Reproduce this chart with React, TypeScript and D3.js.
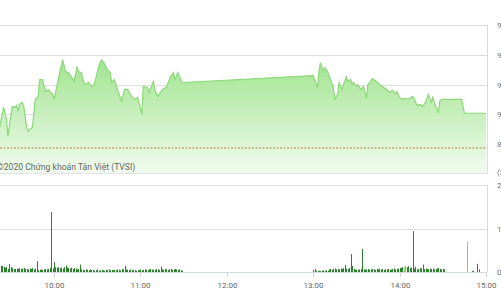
import React from "react";
import * as d3 from "d3";

const priceTimes = ["09:15","09:22","09:25","09:27","09:28","09:31","09:33","09:34","09:35","09:36","09:38","09:39","09:41","09:42","09:45","09:47","09:49","09:50","09:52","09:54","09:56","09:59","10:00","10:02","10:04","10:06","10:08","10:10","10:12","10:14","10:16","10:17","10:19","10:21","10:24","10:26","10:28","10:31","10:33","10:35","10:37","10:39","10:40","10:42","10:44","10:47","10:49","10:51","10:54","10:56","10:58","10:59","11:01","11:02","11:05","11:06","11:09","11:10","11:12","11:14","11:16","11:18","11:21","11:23","11:24","11:26","11:29","11:30","13:00","13:03","13:04","13:05","13:07","13:08","13:10","13:12","13:14","13:15","13:17","13:18","13:20","13:21","13:23","13:24","13:26","13:27","13:28","13:30","13:31","13:33","13:35","13:36","13:37","13:38","13:40","13:41","13:44","13:46","13:48","13:51","13:53","13:55","13:57","13:58","14:00","14:02","14:04","14:06","14:09","14:10","14:12","14:14","14:16","14:18","14:20","14:22","14:23","14:25","14:27","14:28","14:30","14:43","14:45","15:00"];
const priceValues = [890,885,907,895,878,908,907,909,903,910,912,908,887,883,887,915,918,935,935,923,925,920,915,928,942,955,943,942,938,933,948,943,942,930,932,928,930,948,955,951,945,942,932,935,925,913,925,925,918,915,917,912,900,928,927,922,933,925,918,922,926,927,938,942,935,942,932,932,939,927,943,952,943,947,943,935,927,915,920,932,925,930,938,933,935,930,932,928,930,925,928,922,916,930,933,936,933,930,928,925,922,924,920,923,917,915,916,915,918,916,909,910,908,912,920,912,917,908,902,914,915,915,901,901];
const referencePrice = 866;
const priceTicks = [990, 960, 930, 900, 870];

const morningStart = "09:15";
const morningVolumes = [150,120,130,110,140,120,100,130,140,140,115,90,115,70,185,115,90,70,70,80,70,90,70,80,90,70,70,60,80,70,90,60,70,250,40,50,60,50,60,70,60,70,90,1380,80,230,110,100,110,90,100,80,110,150,100,90,80,100,70,90,80,60,70,170,60,50,40,60,50,40,60,40,50,30,40,60,30,40,50,40,30,50,40,60,40,50,40,50,40,60,50,40,70,60,140,60,50,40,60,40,50,40,30,50,40,60,40,50,60,50,40,60,70,50,60,50,70,60,50,120,60,50,70,60,50,60,70,50,60,70,60,50,60,40,30];
const afternoonStart = "13:00";
const afternoonVolumes = [50,70,30,20,30,20,30,40,30,40,30,60,70,50,70,80,60,70,60,80,70,90,160,80,70,90,410,140,70,50,60,50,60,70,530,60,50,60,70,50,60,70,60,50,70,60,80,60,70,50,60,60,70,50,60,70,80,60,70,80,90,100,110,120,140,110,130,90,100,940,80,120,70,60,90,80,170,70,80,70,60,80,70,80,60,70,80,90,70,60,70,60];
const afternoonLight = [63, 64];
const lateTimes = ["14:47","14:50","14:51","14:54","14:55"];
const lateVolumes = [690,20,30,190,60];
const lateLight = [true,false,false,false,false];
const volumeTicks = [2000, 1000, 0];
const timeTicks = ["10:00","11:00","12:00","13:00","14:00","15:00"];

const parse = d3.timeParse("%H:%M");
const fmt = d3.timeFormat("%H:%M");

export default function App() {
  const W = 501, H = 300;
  const right = 487;
  const pTop = 25, pBottom = 173;
  const vTop = 185, vBottom = 272;

  const x = d3.scaleTime().domain([parse("09:00")!, parse("15:00")!]).range([-32.4, 486]);
  const y = d3.scaleLinear().domain([870, 990]).range([144, 25]);
  const yv = d3.scaleLinear().domain([0, 2000]).range([vBottom, vTop]);

  const pts = priceTimes.map((t, i) => ({ t: parse(t)!, v: priceValues[i] }));
  const line = d3.line<any>().x(d => x(d.t)).y(d => y(d.v));
  const area = d3.area<any>().x(d => x(d.t)).y0(pBottom).y1(d => y(d.v));

  type Bar = { t: Date; v: number; light: boolean };
  const bars: Bar[] = [];
  const ms = parse(morningStart)!;
  morningVolumes.forEach((v, i) => bars.push({ t: d3.timeMinute.offset(ms, i), v, light: false }));
  const as = parse(afternoonStart)!;
  afternoonVolumes.forEach((v, i) => bars.push({ t: d3.timeMinute.offset(as, i), v, light: afternoonLight.includes(i) }));
  lateTimes.forEach((t, i) => bars.push({ t: parse(t)!, v: lateVolumes[i], light: lateLight[i] }));

  const font = "Roboto, 'Liberation Sans', Arial, sans-serif";

  return (
    <svg width={W} height={H} style={{ position: "absolute", left: 0, top: 0, background: "#fff" }}>
      <defs>
        <linearGradient id="fillG" gradientUnits="userSpaceOnUse" x1="0" y1="55" x2="0" y2={pBottom}>
          <stop offset="0" stopColor="#9ee38c" />
          <stop offset="1" stopColor="#f1fbee" />
        </linearGradient>
        <clipPath id="clipTop">
          <rect x={0} y={pTop} width={right} height={pBottom - pTop} />
        </clipPath>
      </defs>

      {/* top panel gridlines */}
      {priceTicks.map(v => (
        <line key={v} x1={0} x2={right} y1={Math.round(y(v)) + 0.5} y2={Math.round(y(v)) + 0.5} stroke="#dedede" strokeWidth={1} />
      ))}

      <g clipPath="url(#clipTop)">
        <path d={area(pts) || ""} fill="url(#fillG)" />
        <path d={line(pts) || ""} fill="none" stroke="#8ad878" strokeWidth={1.2} />
        <line x1={0} x2={right} y1={y(referencePrice)} y2={y(referencePrice)} stroke="#c07a50" strokeWidth={1} strokeDasharray="2,1.5" />
      </g>
      <line x1={0} x2={right} y1={pBottom + 0.5} y2={pBottom + 0.5} stroke="#dfe3e8" />
      <line x1={right + 0.5} x2={right + 0.5} y1={pTop} y2={pBottom + 0.5} stroke="#d5dbe3" />

      <text x={-3} y={169.5} fontFamily={font} fontSize={8.6} fill="#666">©2020 Chứng khoán Tân Việt (TVSI)</text>

      {/* price axis labels (clipped by the window) */}
      {priceTicks.map(v => (
        <text key={v} x={497} y={y(v) + 3} fontFamily={font} fontSize={8} fill="#777">{v.toFixed(2)}</text>
      ))}

      {/* volume panel */}
      <line x1={0} x2={right} y1={vTop + 0.5} y2={vTop + 0.5} stroke="#dfe3e8" />
      <line x1={0} x2={right} y1={Math.round(yv(1000)) + 0.5} y2={Math.round(yv(1000)) + 0.5} stroke="#dedede" />
      <line x1={right + 0.5} x2={right + 0.5} y1={vTop} y2={vBottom} stroke="#d5dbe3" />
      {bars.map((b, i) => (
        <rect key={i} x={Math.round(x(b.t))} y={yv(b.v)} width={1} height={vBottom - yv(b.v)} fill={b.light ? "#7fcf6f" : "#2a822a"} />
      ))}
      <line x1={0} x2={right} y1={vBottom + 0.5} y2={vBottom + 0.5} stroke="#d5dbe3" />

      <text x={497} y={175} fontFamily={font} fontSize={8} fill="#777">(x1000)</text>
      {volumeTicks.map(v => (
        <text key={v} x={497} y={yv(v) + 3} fontFamily={font} fontSize={8} fill="#777">{d3.format(",")(v)}</text>
      ))}

      {/* time axis */}
      {timeTicks.map(t => {
        const xx = Math.round(x(parse(t)!)) + 0.5;
        return (
          <g key={t}>
            <line x1={xx} x2={xx} y1={vBottom} y2={vBottom + 5} stroke="#cfd5dd" />
            <text x={xx} y={288} textAnchor="middle" fontFamily={font} fontSize={8} fill="#666">{fmt(parse(t)!)}</text>
          </g>
        );
      })}
    </svg>
  );
}
